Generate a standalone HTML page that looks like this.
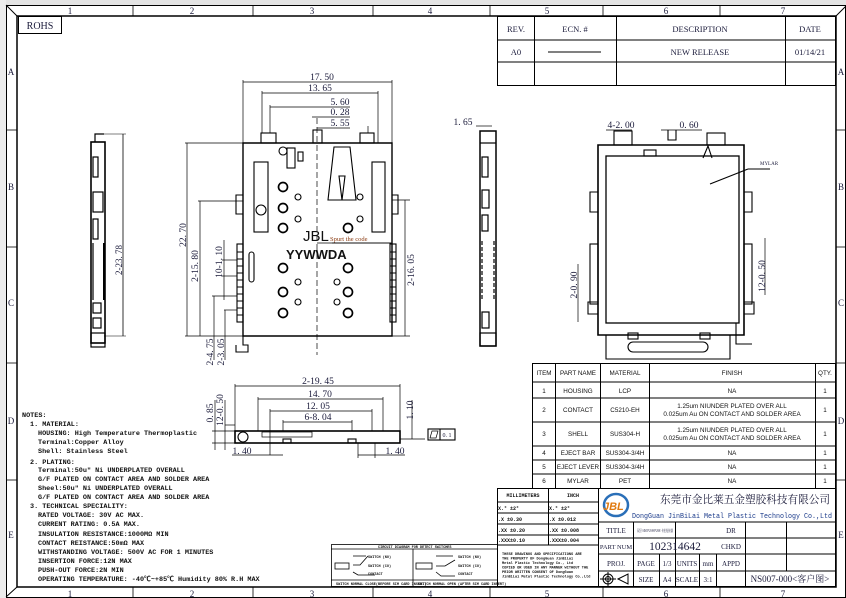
<!DOCTYPE html>
<html><head><meta charset="utf-8"><style>
html,body{margin:0;padding:0;background:#fff;}
svg{display:block;}
text{font-family:"Liberation Serif","Noto Serif CJK SC",serif;fill:#1a1a3a;}
.m{font-family:"Liberation Mono","Noto Sans CJK SC",monospace;fill:#111;}
.s{font-family:"Liberation Sans","Noto Sans CJK SC",sans-serif;fill:#111;}
</style></head><body>
<svg width="846" height="598" viewBox="0 0 846 598" xmlns="http://www.w3.org/2000/svg">
<rect x="0" y="0" width="846" height="598" fill="#fff"/>
<rect x="0" y="0" width="846" height="5" fill="#e4e4e4"/>
<rect x="0" y="0" width="6" height="598" fill="#ececec"/>
<g fill="none" stroke="#000">
<rect x="6.5" y="5.5" width="839" height="592" stroke-width="1"/>
<rect x="17" y="16" width="819" height="571" stroke-width="1.5"/>
<line x1="6" y1="5" x2="17" y2="16"/><line x1="836" y1="16" x2="846" y2="6"/>
<line x1="6" y1="597" x2="17" y2="587"/>
<g stroke-width="0.8">
<line x1="133" y1="5" x2="133" y2="16"/><line x1="253" y1="5" x2="253" y2="16"/><line x1="373" y1="5" x2="373" y2="16"/><line x1="490" y1="5" x2="490" y2="16"/><line x1="603" y1="5" x2="603" y2="16"/><line x1="720" y1="5" x2="720" y2="16"/>
<line x1="133" y1="587" x2="133" y2="598"/><line x1="253" y1="587" x2="253" y2="598"/><line x1="373" y1="587" x2="373" y2="598"/><line x1="490" y1="587" x2="490" y2="598"/><line x1="603" y1="587" x2="603" y2="598"/><line x1="720" y1="587" x2="720" y2="598"/>
<line x1="6" y1="130" x2="17" y2="130"/><line x1="6" y1="247" x2="17" y2="247"/><line x1="6" y1="363" x2="17" y2="363"/><line x1="6" y1="480" x2="17" y2="480"/>
<line x1="836" y1="130" x2="846" y2="130"/><line x1="836" y1="247" x2="846" y2="247"/><line x1="836" y1="363" x2="846" y2="363"/><line x1="836" y1="480" x2="846" y2="480"/>
</g></g>
<g font-size="9" text-anchor="middle">
<text x="70" y="14">1</text><text x="192" y="14">2</text><text x="312" y="14">3</text><text x="430" y="14">4</text><text x="547" y="14">5</text><text x="666" y="14">6</text><text x="783" y="14">7</text>
<text x="70" y="597">1</text><text x="192" y="597">2</text><text x="312" y="597">3</text><text x="430" y="597">4</text><text x="547" y="597">5</text><text x="666" y="597">6</text><text x="783" y="597">7</text>
<text x="11" y="75">A</text><text x="11" y="190">B</text><text x="11" y="306">C</text><text x="11" y="424">D</text><text x="11" y="538">E</text>
<text x="841" y="75">A</text><text x="841" y="190">B</text><text x="841" y="306">C</text><text x="841" y="424">D</text><text x="841" y="538">E</text>
</g>
<rect x="18.5" y="16.5" width="43" height="17" fill="none" stroke="#000"/>
<text x="40" y="29" font-size="10" text-anchor="middle">ROHS</text>
<g fill="none" stroke="#000" stroke-width="1">
<rect x="497.5" y="16.5" width="338" height="69"/>
<line x1="497" y1="40" x2="836" y2="40"/><line x1="497" y1="62" x2="836" y2="62"/>
<line x1="534.5" y1="16" x2="534.5" y2="85"/><line x1="616.5" y1="16" x2="616.5" y2="85"/><line x1="785.5" y1="16" x2="785.5" y2="85"/>
<line x1="548" y1="52" x2="601" y2="52"/>
</g>
<g font-size="8.5" text-anchor="middle">
<text x="516" y="32">REV.</text><text x="575" y="32">ECN. #</text><text x="700" y="32">DESCRIPTION</text><text x="810" y="32">DATE</text>
<text x="516" y="55">A0</text><text x="700" y="55">NEW RELEASE</text><text x="810" y="55">01/14/21</text>
</g>
<g fill="none" stroke="#000" stroke-width="1.2">
<rect x="91" y="142" width="14" height="201" stroke-width="1.6"/>
<path d="M95 142 V134 H104"/>
<rect x="93" y="157" width="5" height="20"/><rect x="93" y="192" width="10" height="20"/><rect x="93" y="219" width="5" height="20"/>
<path d="M93 243 V300"/><path d="M104 243 V300" stroke-width="2"/>
<rect x="93" y="303" width="8" height="10"/><rect x="93" y="318" width="8" height="10"/>
<rect x="91" y="333" width="14" height="14"/>
<line x1="104" y1="134" x2="126" y2="134" stroke-width="0.6"/><line x1="104" y1="336" x2="126" y2="336" stroke-width="0.6"/>
<line x1="123" y1="134" x2="123" y2="336" stroke-width="0.8"/>
</g>
<text transform="translate(122,260) rotate(-90)" font-size="9" text-anchor="middle">2-23. 78</text>
<g fill="none" stroke="#000" stroke-width="1.1">
<path d="M243 143 H392 V336 H243 Z" stroke-width="1.4"/>
<line x1="317" y1="118" x2="317" y2="355" stroke-dasharray="6,3" stroke-width="0.7"/>
<line x1="317" y1="243" x2="391" y2="243" stroke-width="0.7"/>
<rect x="261" y="133" width="15" height="10"/><rect x="360" y="133" width="14" height="10"/>
<rect x="313" y="130" width="9" height="13"/>
<circle cx="283" cy="151" r="4"/><rect x="287" y="148" width="8" height="20"/><rect x="298" y="152" width="5" height="9"/>
<path d="M334 147 H350 L356 200 H342 L345 176 H339 L342 200 H328 Z"/>
<rect x="254" y="162" width="14" height="70"/><circle cx="261" cy="210" r="5"/>
<rect x="372" y="162" width="13" height="70"/>
<path d="M243 195 H236 V214 H243 M392 195 H398 V214 H392"/>
<rect x="237" y="244" width="6" height="78"/><rect x="390" y="244" width="6" height="78"/>
<g stroke-width="0.9">
<path d="M237 252h6M237 259h6M237 266h6M237 273h6M237 280h6M237 287h6M237 294h6M237 301h6M237 308h6M237 315h6"/>
<path d="M390 252h6M390 259h6M390 266h6M390 273h6M390 280h6M390 287h6M390 294h6M390 301h6M390 308h6M390 315h6"/>
</g>
<rect x="249" y="252" width="5" height="30" rx="2.5"/>
<path d="M243 336 V345 H248 V352 H236 V345"/>
<g stroke-width="1.7">
<circle cx="283" cy="187" r="4.5"/><circle cx="283" cy="208" r="4.5"/><circle cx="283" cy="228" r="4.5"/>
<circle cx="283" cy="268" r="4.5"/><circle cx="283" cy="292" r="4.5"/><circle cx="283" cy="313" r="4.5"/>
<circle cx="348" cy="228" r="4.5"/><circle cx="348" cy="268" r="4.5"/><circle cx="348" cy="292" r="4.5"/><circle cx="348" cy="313" r="4.5"/>
</g>
<circle cx="298" cy="197" r="3"/><circle cx="298" cy="219" r="3"/><circle cx="298" cy="282" r="3"/><circle cx="298" cy="302" r="3"/>
<circle cx="360" cy="197" r="3"/><circle cx="360" cy="219" r="3"/><circle cx="337" cy="282" r="3"/><circle cx="337" cy="302" r="3"/>
<g stroke-width="0.7">
<line x1="243" y1="80" x2="243" y2="143"/><line x1="392" y1="80" x2="392" y2="143"/><line x1="243" y1="82" x2="392" y2="82"/>
<line x1="262" y1="91" x2="262" y2="133"/><line x1="378" y1="91" x2="378" y2="143"/><line x1="262" y1="93" x2="378" y2="93"/>
<line x1="270" y1="105" x2="270" y2="133"/><line x1="270" y1="107" x2="350" y2="107"/>
<line x1="312" y1="117" x2="350" y2="117"/><line x1="317" y1="128" x2="350" y2="128"/><line x1="368" y1="126" x2="368" y2="133"/>
<line x1="185" y1="143" x2="243" y2="143"/><line x1="185" y1="336" x2="243" y2="336"/><line x1="187" y1="143" x2="187" y2="336"/>
<line x1="198" y1="201" x2="243" y2="201"/><line x1="200" y1="201" x2="200" y2="336"/>
<line x1="222" y1="260" x2="237" y2="260"/><line x1="222" y1="276" x2="237" y2="276"/><line x1="224" y1="240" x2="224" y2="300"/>
<line x1="212" y1="296" x2="237" y2="296"/><line x1="214" y1="296" x2="214" y2="360"/>
<line x1="224" y1="310" x2="237" y2="310"/><line x1="225" y1="310" x2="225" y2="360"/>
<line x1="392" y1="200" x2="410" y2="200"/><line x1="392" y1="336" x2="410" y2="336"/><line x1="405" y1="200" x2="405" y2="336"/>
<line x1="332" y1="243" x2="392" y2="243"/>
</g>
</g>
<g font-size="9.5" text-anchor="middle">
<text x="322" y="80">17. 50</text><text x="320" y="91">13. 65</text><text x="340" y="105">5. 60</text><text x="340" y="115">0. 28</text><text x="340" y="126">5. 55</text>
<text transform="translate(186,235) rotate(-90)">22. 70</text>
<text transform="translate(198,266) rotate(-90)">2-15. 80</text>
<text transform="translate(222,262) rotate(-90)">10-1. 10</text>
<text transform="translate(213,352) rotate(-90)">2-4. 75</text>
<text transform="translate(224,352) rotate(-90)">2-3. 05</text>
<text transform="translate(414,270) rotate(-90)">2-16. 05</text>
</g>
<text x="303" y="241" class="s" font-size="15">JBL</text>
<text x="330" y="241" font-size="6.5" style="fill:#8a3a10">Spurt the code</text>
<text x="286" y="259" class="s" font-size="13" font-weight="bold">YYWWDA</text>
<g fill="none" stroke="#000" stroke-width="1.2">
<rect x="480" y="131" width="16" height="215" stroke-width="1.5"/>
<line x1="480" y1="143" x2="496" y2="143"/>
<rect x="482" y="157" width="6" height="20"/><rect x="482" y="190" width="7" height="18"/><rect x="482" y="215" width="6" height="16"/>
<path d="M482 241 V300 M494 241 V300" stroke-dasharray="4,2"/>
<rect x="482" y="312" width="7" height="16"/><rect x="480" y="333" width="16" height="13"/>
<line x1="476" y1="126" x2="492" y2="126" stroke-width="0.7"/>
</g>
<text x="463" y="125" font-size="9.5" text-anchor="middle">1. 65</text>
<g fill="none" stroke="#000" stroke-width="1.1">
<path d="M598 145 H744 V335 H598 Z" stroke-width="1.6"/>
<rect x="606" y="156" width="133" height="167" stroke-width="1.3"/>
<rect x="614" y="131" width="18" height="14"/><rect x="707" y="133" width="18" height="12"/>
<rect x="644" y="150" width="12" height="6"/>
<path d="M668 130 V140 H676 V130"/>
<path d="M703 158 L708 146 L712 158"/>
<line x1="710" y1="184" x2="748" y2="169"/><line x1="748" y1="169" x2="770" y2="169"/>
<path d="M598 192 H590 V212 H598 M744 192 H752 V212 H744"/>
<rect x="590" y="244" width="8" height="60"/><rect x="744" y="244" width="8" height="60"/>
<path d="M598 302 H588 V314 H598 M744 302 H754 V314 H744"/>
<path d="M606 335 V359 H730 V335"/>
<rect x="628" y="342" width="80" height="10" rx="5"/>
<rect x="628" y="333" width="10" height="6"/><rect x="700" y="333" width="10" height="6"/>
<path d="M736 323 V344 H752"/>
<g stroke-width="0.7">
<line x1="606" y1="130" x2="632" y2="130"/><line x1="661" y1="130" x2="702" y2="130"/>
<line x1="578" y1="264" x2="578" y2="322"/><line x1="765" y1="238" x2="765" y2="295"/>
</g>
</g>
<text x="621" y="128" font-size="9.5" text-anchor="middle">4-2. 00</text>
<text x="689" y="128" font-size="9.5" text-anchor="middle">0. 60</text>
<text x="760" y="165" font-size="5">MYLAR</text>
<text transform="translate(577,285) rotate(-90)" font-size="9.5" text-anchor="middle">2-0. 90</text>
<text transform="translate(765,276) rotate(-90)" font-size="9.5" text-anchor="middle">12-0. 50</text>
<g fill="none" stroke="#000" stroke-width="1.1">
<rect x="235" y="431" width="165" height="12" stroke-width="1.6"/>
<circle cx="243" cy="437" r="5"/>
<rect x="262" y="432" width="50" height="5" stroke-width="0.7"/>
<rect x="283" y="439" width="8" height="4"/><rect x="348" y="439" width="8" height="4"/>
<g stroke-width="0.7">
<line x1="235" y1="386" x2="400" y2="386"/><line x1="235" y1="384" x2="235" y2="431"/><line x1="400" y1="384" x2="400" y2="431"/>
<line x1="258" y1="399" x2="383" y2="399"/><line x1="258" y1="397" x2="258" y2="431"/><line x1="383" y1="397" x2="383" y2="431"/>
<line x1="270" y1="411" x2="372" y2="411"/><line x1="270" y1="409" x2="270" y2="455"/><line x1="372" y1="409" x2="372" y2="431"/>
<line x1="283" y1="422" x2="352" y2="422"/><line x1="283" y1="420" x2="283" y2="431"/><line x1="352" y1="420" x2="352" y2="431"/>
<line x1="212" y1="431" x2="235" y2="431"/><line x1="212" y1="443" x2="235" y2="443"/><line x1="225" y1="425" x2="235" y2="425"/>
<line x1="215" y1="400" x2="215" y2="450"/><line x1="225" y1="400" x2="225" y2="450"/>
<line x1="232" y1="455" x2="283" y2="455"/><line x1="358" y1="455" x2="405" y2="455"/><line x1="358" y1="443" x2="358" y2="458"/><line x1="375" y1="443" x2="375" y2="458"/>
<line x1="400" y1="439" x2="425" y2="439"/><line x1="412" y1="400" x2="412" y2="439"/>
</g>
<rect x="428" y="429" width="27" height="11"/><line x1="440" y1="429" x2="440" y2="440"/>
<path d="M430 438 L432 431 H438 L436 438 Z" stroke-width="0.7"/>
</g>
<g font-size="9.5" text-anchor="middle">
<text x="318" y="384">2-19. 45</text><text x="320" y="397">14. 70</text><text x="318" y="409">12. 05</text><text x="318" y="420">6-8. 04</text>
<text x="242" y="454">1. 40</text><text x="395" y="454">1. 40</text>
<text transform="translate(213,413) rotate(-90)">0. 85</text>
<text transform="translate(223,410) rotate(-90)">12-0. 50</text>
<text transform="translate(413,410) rotate(-90)">1. 10</text>
<text x="447" y="437" font-size="6">0. 1</text>
</g>
<g font-size="6.8" font-weight="bold">
<text x="22" y="417" class="m">NOTES:</text>
<text x="30" y="426" class="m">1. MATERIAL:</text>
<text x="38" y="435" class="m">HOUSING: High Temperature Thermoplastic</text>
<text x="38" y="444" class="m">Terminal:Copper Alloy</text>
<text x="38" y="453" class="m">Shell: Stainless Steel</text>
<text x="30" y="464" class="m">2. PLATING:</text>
<text x="38" y="472" class="m">Terminal:50u" Ni UNDERPLATED OVERALL</text>
<text x="38" y="481" class="m">G/F PLATED ON CONTACT AREA AND SOLDER AREA</text>
<text x="38" y="490" class="m">Sheel:50u" Ni UNDERPLATED OVERALL</text>
<text x="38" y="499" class="m">G/F PLATED ON CONTACT AREA AND SOLDER AREA</text>
<text x="30" y="508" class="m">3. TECHNICAL SPECIALITY:</text>
<text x="38" y="517" class="m">RATED VOLTAGE: 30V AC MAX.</text>
<text x="38" y="526" class="m">CURRENT RATING: 0.5A MAX.</text>
<text x="38" y="536" class="m">INSULATION RESISTANCE:1000MΩ MIN</text>
<text x="38" y="545" class="m">CONTACT REISTANCE:50mΩ MAX</text>
<text x="38" y="554" class="m">WITHSTANDING VOLTAGE: 500V AC FOR 1 MINUTES</text>
<text x="38" y="563" class="m">INSERTION FORCE:12N MAX</text>
<text x="38" y="572" class="m">PUSH-OUT FORCE:2N MIN</text>
<text x="38" y="581" class="m">OPERATING TEMPERATURE: -40℃~+85℃ Humidity 80% R.H MAX</text>
</g>
<g fill="none" stroke="#000" stroke-width="0.8">
<rect x="331.5" y="544.5" width="166" height="42"/>
<line x1="331" y1="549" x2="497" y2="549"/><line x1="331" y1="580" x2="497" y2="580"/><line x1="413" y1="549" x2="413" y2="587"/>
<rect x="335" y="563" width="14" height="6"/><rect x="416" y="563" width="16" height="6"/>
<path d="M353 556 H366 M353 565 H360 L368 556 M353 572 L358 575 H375"/>
<path d="M436 556 H453 M436 566 H445 L455 560 M436 572 L441 576 H455"/>
</g>
<g font-size="3.5" font-weight="bold">
<text x="378" y="548" class="m">CIRCUIT DIAGRAM FOR DETECT SWITCHES</text>
<text x="368" y="558" class="m">SWITCH (NO)</text><text x="368" y="567" class="m">SWITCH (CO)</text><text x="368" y="575" class="m">CONTACT</text>
<text x="458" y="558" class="m">SWITCH (NO)</text><text x="458" y="567" class="m">SWITCH (CO)</text><text x="458" y="575" class="m">CONTACT</text>
<text x="336" y="585" class="m">SWITCH NORMAL CLOSE(BEFORE SIM CARD INSERT)</text>
<text x="418" y="585" class="m">SWITCH NORMAL OPEN (AFTER SIM CARD INSERT)</text>
</g>
<g fill="none" stroke="#000" stroke-width="1">
<rect x="532.5" y="363.5" width="303" height="125"/>
<line x1="532" y1="382" x2="836" y2="382"/><line x1="532" y1="398" x2="836" y2="398"/><line x1="532" y1="422" x2="836" y2="422"/><line x1="532" y1="446" x2="836" y2="446"/><line x1="532" y1="460" x2="836" y2="460"/><line x1="532" y1="474" x2="836" y2="474"/>
<line x1="555.5" y1="363" x2="555.5" y2="488"/><line x1="600.5" y1="363" x2="600.5" y2="488"/><line x1="649.5" y1="363" x2="649.5" y2="488"/><line x1="815.5" y1="363" x2="815.5" y2="488"/>
</g>
<g font-size="6.3" text-anchor="middle">
<text x="544" y="375" class="s">ITEM</text><text x="578" y="375" class="s">PART NAME</text><text x="625" y="375" class="s">MATERIAL</text><text x="732" y="375" class="s">FINISH</text><text x="825" y="375" class="s">QTY.</text>
<text x="544" y="393" class="s">1</text><text x="578" y="393" class="s">HOUSING</text><text x="625" y="393" class="s">LCP</text><text x="732" y="393" class="s">NA</text><text x="825" y="393" class="s">1</text>
<text x="544" y="412" class="s">2</text><text x="578" y="412" class="s">CONTACT</text><text x="625" y="412" class="s">C5210-EH</text><text x="732" y="408" class="s">1.25um NIUNDER PLATED OVER ALL</text><text x="732" y="416" class="s">0.025um Au ON CONTACT AND SOLDER AREA</text><text x="825" y="412" class="s">1</text>
<text x="544" y="436" class="s">3</text><text x="578" y="436" class="s">SHELL</text><text x="625" y="436" class="s">SUS304-H</text><text x="732" y="432" class="s">1.25um NIUNDER PLATED OVER ALL</text><text x="732" y="440" class="s">0.025um Au ON CONTACT AND SOLDER AREA</text><text x="825" y="436" class="s">1</text>
<text x="544" y="455" class="s">4</text><text x="578" y="455" class="s">EJECT BAR</text><text x="625" y="455" class="s">SUS304-3/4H</text><text x="732" y="455" class="s">NA</text><text x="825" y="455" class="s">1</text>
<text x="544" y="469" class="s">5</text><text x="578" y="469" class="s">EJECT LEVER</text><text x="625" y="469" class="s">SUS304-3/4H</text><text x="732" y="469" class="s">NA</text><text x="825" y="469" class="s">1</text>
<text x="544" y="483" class="s">6</text><text x="578" y="483" class="s">MYLAR</text><text x="625" y="483" class="s">PET</text><text x="732" y="483" class="s">NA</text><text x="825" y="483" class="s">1</text>
</g>
<g fill="none" stroke="#000" stroke-width="1">
<rect x="497.5" y="488.5" width="338" height="98"/>
<line x1="497" y1="502" x2="598" y2="502"/><line x1="497" y1="513" x2="598" y2="513"/><line x1="497" y1="524" x2="598" y2="524"/><line x1="497" y1="535" x2="598" y2="535"/><line x1="497" y1="545" x2="598" y2="545"/>
<line x1="548.5" y1="488" x2="548.5" y2="545"/><line x1="598.5" y1="488" x2="598.5" y2="587"/>
<line x1="598" y1="522" x2="836" y2="522"/><line x1="598" y1="538" x2="836" y2="538"/><line x1="598" y1="554" x2="836" y2="554"/><line x1="598" y1="571" x2="836" y2="571"/>
<line x1="633.5" y1="522" x2="633.5" y2="587"/><line x1="675.5" y1="522" x2="675.5" y2="587"/><line x1="745.5" y1="522" x2="745.5" y2="587"/><line x1="786.5" y1="522" x2="786.5" y2="571"/>
<line x1="659.5" y1="554" x2="659.5" y2="587"/><line x1="699.5" y1="554" x2="699.5" y2="587"/><line x1="716.5" y1="554" x2="716.5" y2="587"/>
<circle cx="608" cy="579" r="5"/><circle cx="608" cy="579" r="2.5"/><line x1="600" y1="579" x2="616" y2="579"/><line x1="608" y1="572" x2="608" y2="586"/>
<path d="M618 579 L628 574 V584 Z"/>
</g>
<g font-size="5" font-weight="bold">
<text x="523" y="497" text-anchor="middle" class="m">MILLIMETERS</text><text x="573" y="497" text-anchor="middle" class="m">INCH</text>
<text x="498" y="510" class="m">X.° ±2°</text><text x="549" y="510" class="m">X.° ±2°</text>
<text x="498" y="521" class="m">.X  ±0.30</text><text x="549" y="521" class="m">.X  ±0.012</text>
<text x="498" y="532" class="m">.XX ±0.20</text><text x="549" y="532" class="m">.XX ±0.008</text>
<text x="498" y="542" class="m">.XXX±0.10</text><text x="549" y="542" class="m">.XXX±0.004</text>
</g>
<g font-size="3.6" font-weight="bold">
<text x="502" y="555" class="m">THESE DRAWINGS AND SPECIFICATIONS ARE</text>
<text x="502" y="559.5" class="m">THE PROPERTY OF DongGuan JinBiLai</text>
<text x="502" y="564" class="m">Metal Plastic Technology Co., Ltd</text>
<text x="502" y="568.5" class="m">COPIED OR USED IN ANY MANNER WITHOUT THE</text>
<text x="502" y="573" class="m">PRIOR WRITTEN CONSENT OF DongGuan</text>
<text x="502" y="577.5" class="m">JinBiLai Metal Plastic Technology Co.,Ltd</text>
</g>
<ellipse cx="616" cy="505" rx="12" ry="11" fill="none" stroke="#2a6fb8" stroke-width="2.5"/>
<text x="603" y="510" font-size="11" font-weight="bold" style="fill:#e07a10;font-family:'Liberation Sans',sans-serif;font-style:italic">JBL</text>
<text x="660" y="503" font-size="11" textLength="170" lengthAdjust="spacingAndGlyphs">东莞市金比莱五金塑胶科技有限公司</text>
<text x="632" y="518" font-size="7.5" textLength="200" lengthAdjust="spacingAndGlyphs" style="fill:#1a3a8a;font-family:'Liberation Mono',monospace">DongGuan JinBiLai Metal Plastic Technology Co.,Ltd</text>
<g font-size="7" text-anchor="middle">
<text x="616" y="533">TITLE</text><text x="731" y="533">DR</text>
<text x="616" y="549" font-size="6.5">PART NUM</text><text x="675" y="550" font-size="11.5">102314642</text><text x="731" y="549">CHKD</text>
<text x="616" y="566">PROJ.</text><text x="646" y="566">PAGE</text><text x="667" y="566">1/3</text><text x="687" y="566">UNITS</text><text x="708" y="566">mm</text><text x="731" y="566">APPD</text>
<text x="646" y="582">SIZE</text><text x="667" y="582">A4</text><text x="687" y="582">SCALE</text><text x="708" y="582">3:1</text>
<text x="790" y="582" font-size="9">NS007-000&lt;客户图&gt;</text>
</g>
<text x="637" y="532" font-size="4" textLength="36" lengthAdjust="spacingAndGlyphs">双层 SIM PUSH-PUSH 卡座连接器</text>
</svg>
</body></html>
